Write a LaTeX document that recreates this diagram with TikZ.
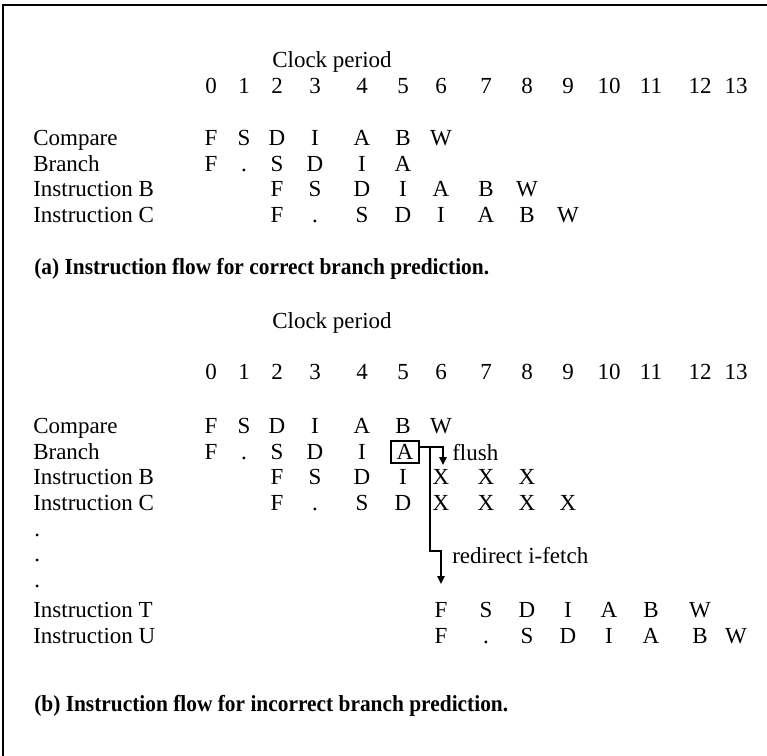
\documentclass[tikz,border=0pt]{standalone}
\usepackage{fontspec}
\setmainfont{Liberation Serif}
\newfontfamily\capfont{Liberation Serif}[FakeStretch=0.93]
\usetikzlibrary{arrows.meta,calc}
\def\colsarr{{211,244,277,315,362,403,441,486,527,568,609,651,700,736}}
\newcommand\prow[3]{%
  \foreach \c/\t in {#3} {%
    \pgfmathsetmacro\xx{\colsarr[\c]}%
    \node[txt] (#1-\c) at (\xx,#2) {\t};
  }}
\begin{document}
\begin{tikzpicture}[x=0.75pt,y=-0.75pt,
  txt/.style={inner sep=0pt, anchor=base, font=\fontsize{17.25}{20}\selectfont},
  lbl/.style={txt, anchor=base west},
  captxt/.style={inner sep=0pt, anchor=base west, font=\capfont\bfseries\fontsize{17.25}{20}\selectfont},
  frameline/.style={line width=1.5pt},
  conn/.style={line width=1.5pt},
  tipped/.style={-{Triangle[length=6pt,width=5.5pt]}}]
\useasboundingbox (0,0) rectangle (767,756);
% frame
\draw[frameline] (3,756) -- (3,5) -- (767,5);

% ---------- part (a) ----------
\node[lbl] (aclk) at (272,67.6) {Clock period};
\foreach \c in {0,...,13} {%
  \pgfmathsetmacro\xx{\colsarr[\c]}%
  \node[txt] (ahd-\c) at (\xx,93.6) {\c};
}
\node[lbl] (aL1) at (33,145.6) {Compare};
\node[lbl] (aL2) at (33,171.1) {Branch};
\node[lbl] (aL3) at (33,196.6) {Instruction B};
\node[lbl] (aL4) at (33,222.1) {Instruction C};
\prow{aR1}{145.6}{0/F,1/S,2/D,3/I,4/A,5/B,6/W}
\prow{aR2}{171.1}{0/F,1/.,2/S,3/D,4/I,5/A}
\prow{aR3}{196.6}{2/F,3/S,4/D,5/I,6/A,7/B,8/W}
\prow{aR4}{222.1}{2/F,3/.,4/S,5/D,6/I,7/A,8/B,9/W}
\node[captxt] (acap) at (34,274) {(a) Instruction flow for correct branch prediction.};

% ---------- part (b) ----------
\node[lbl] (bclk) at (272,328.6) {Clock period};
\foreach \c in {0,...,13} {%
  \pgfmathsetmacro\xx{\colsarr[\c]}%
  \node[txt] (bhd-\c) at (\xx,379.6) {\c};
}
\node[lbl] (bL1) at (33,433.6) {Compare};
\node[lbl] (bL2) at (33,459.6) {Branch};
\node[lbl] (bL3) at (33,484.6) {Instruction B};
\node[lbl] (bL4) at (33,510.6) {Instruction C};
\node[lbl] (bD1) at (34,536) {.};
\node[lbl] (bD2) at (34,561.5) {.};
\node[lbl] (bD3) at (34,587) {.};
\node[lbl] (bL5) at (33,617.6) {Instruction T};
\node[lbl] (bL6) at (33,643.6) {Instruction U};
\prow{bR1}{433.6}{0/F,1/S,2/D,3/I,4/A,5/B,6/W}
\prow{bR2}{459.6}{0/F,1/.,2/S,3/D,4/I}
\node[txt, draw, line width=1.5pt, inner xsep=4pt, inner ysep=2.4pt] (boxA) at (405,459.6) {A};
\prow{bR3}{484.6}{2/F,3/S,4/D,5/I,6/X,7/X,8/X}
\prow{bR4}{510.6}{2/F,3/.,4/S,5/D,6/X,7/X,8/X,9/X}
\prow{bR5}{617.6}{6/F,7/S,8/D,9/I,10/A,11/B,12/W}
\prow{bR6}{643.6}{6/F,7/.,8/S,9/D,10/I,11/A,12/B,13/W}
\node[lbl] (flush) at (452,460) {flush};
\node[lbl] (redir) at (452,563) {redirect i-fetch};
\node[captxt] (bcap) at (34,711) {(b) Instruction flow for incorrect branch prediction.};

% connectors
\coordinate (jA) at ($(boxA.north east)!0.28!(boxA.south east)$);
\coordinate (split) at ($(jA)+(10,0)$);
\coordinate (bend) at ($(split)+(0,104)$);
\coordinate (flushtip) at (443,465);
\coordinate (fetchtip) at (441,584);
\draw[conn, tipped] (jA) -| (flushtip);
\draw[conn, tipped] (split) -- (bend) -| (fetchtip);
\end{tikzpicture}
\end{document}
